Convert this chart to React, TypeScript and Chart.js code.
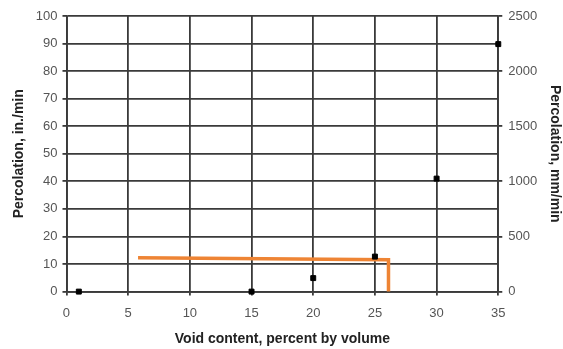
import React, { useEffect, useRef } from "react";
import { Chart, registerables } from "chart.js";

Chart.register(...registerables);

const voidContent = [1, 15, 20, 25, 30, 35];
const percolationIn = [0, 0, 4.9, 12.7, 41, 89.8];
const thresholdX = [5.8, 26.1, 26.1];
const thresholdY = [12.3, 11.6, 0];

const FONT = "'Liberation Sans', Arial, sans-serif";

export default function App() {
  const ref = useRef<HTMLCanvasElement>(null);
  useEffect(() => {
    document.body.style.margin = "0";
    const ctx = ref.current!;
    const chart = new Chart(ctx, {
      type: "scatter",
      data: {
        datasets: [
          {
            data: thresholdX.map((x, i) => ({ x, y: thresholdY[i] })),
            showLine: true,
            borderColor: "#EE8434",
            borderWidth: 3.5,
            pointRadius: 0,
            tension: 0,
            yAxisID: "y",
            order: 2,
            clip: false,
          },
          {
            data: voidContent.map((x, i) => ({ x, y: percolationIn[i] })),
            pointStyle: "rect",
            pointRadius: 3.5,
            backgroundColor: "#000",
            borderColor: "#000",
            yAxisID: "y",
            order: 1,
            clip: false,
          },
        ],
      },
      options: {
        animation: false,
        responsive: false,
        layout: { padding: { top: 16, right: 0, left: 7, bottom: 0 } },
        plugins: { legend: { display: false }, tooltip: { enabled: false } },
        scales: {
          x: {
            type: "linear",
            min: 0,
            max: 35,
            ticks: { stepSize: 5, color: "#555", font: { family: FONT, size: 13 }, padding: 10, maxRotation: 0 },
            grid: { color: "#3a3a3a", lineWidth: 1.8, tickLength: 4 },
            border: { color: "#3a3a3a", width: 1.8 },
            title: {
              display: true,
              text: "Void content, percent by volume",
              color: "#222",
              font: { family: FONT, size: 14, weight: "bold" },
              padding: { top: 0, bottom: 1 },
            },
          },
          y: {
            position: "left",
            min: 0,
            max: 100,
            ticks: { stepSize: 10, color: "#555", font: { family: FONT, size: 13 }, padding: 5 },
            grid: { color: "#3a3a3a", lineWidth: 1.8, tickLength: 4 },
            border: { color: "#3a3a3a", width: 1.8 },
            title: {
              display: true,
              text: "Percolation, in./min",
              color: "#222",
              font: { family: FONT, size: 14, weight: "bold" },
              padding: { top: 4, bottom: 3 },
            },
          },
          y2: {
            position: "right",
            min: 0,
            max: 2500,
            ticks: {
              stepSize: 500,
              color: "#555",
              font: { family: FONT, size: 13 },
              padding: 6,
              callback: (v: any) => String(v),
            },
            grid: { drawOnChartArea: false, color: "#3a3a3a", lineWidth: 1.8, tickLength: 4 },
            border: { color: "#3a3a3a", width: 1.8 },
            title: {
              display: true,
              text: "Percolation, mm/min",
              color: "#222",
              font: { family: FONT, size: 14, weight: "bold" },
              padding: { top: 0, bottom: 3 },
            },
          },
        },
      },
    });
    return () => chart.destroy();
  }, []);
  return <canvas ref={ref} width={563} height={349} style={{ display: "block" }} />;
}
